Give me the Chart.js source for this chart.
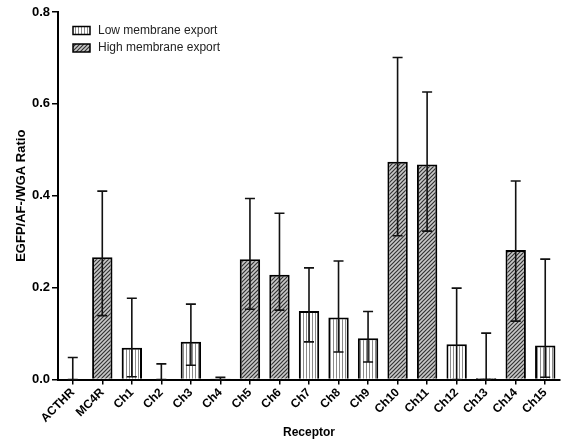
<!DOCTYPE html>
<html>
<head>
<meta charset="utf-8">
<script src="https://cdn.jsdelivr.net/npm/chart.js@4"></script>
<style>
  body { margin: 0; background: #fff; }
  #wrap { width: 564px; height: 443px; }
</style>
</head>
<body>
<div id="wrap"><canvas id="myChart"></canvas></div>
<script>
// receptors on the x axis
var receptors = ['ACTHR', 'MC4R', 'Ch1', 'Ch2', 'Ch3', 'Ch4', 'Ch5', 'Ch6', 'Ch7', 'Ch8',
                 'Ch9', 'Ch10', 'Ch11', 'Ch12', 'Ch13', 'Ch14', 'Ch15'];

// mean ratio, split by export group (null = not in this group)
var lowExport  = [0, null, 0.069, 0, 0.082, 0.002, null, null, 0.149, 0.135, 0.090, null, null, 0.077, 0.003, null, 0.074];
var highExport = [null, 0.266, null, null, null, null, 0.262, 0.228, null, null, null, 0.474, 0.468, null, null, 0.282, null];

// error bar ends
var errUpper = [0.048, 0.410, 0.177, 0.034, 0.164, 0.005, 0.394, 0.362, 0.243, 0.258, 0.148, 0.701, 0.626, 0.199, 0.101, 0.432, 0.262];
var errLower = [0, 0.139, 0.006, 0, 0.031, 0, 0.153, 0.151, 0.082, 0.060, 0.038, 0.313, 0.323, 0, 0, 0.127, 0.005];

var FONT = "'Liberation Sans', Arial, sans-serif";

// fill patterns
function stripes() {
  var c = document.createElement('canvas');
  c.width = 3; c.height = 3;
  var g = c.getContext('2d');
  g.fillStyle = '#fff';
  g.fillRect(0, 0, 3, 3);
  g.fillStyle = '#8a8a8a';
  g.fillRect(0, 0, 1, 3);
  return g.createPattern(c, 'repeat');
}
function hatch() {
  var c = document.createElement('canvas');
  c.width = 4; c.height = 4;
  var g = c.getContext('2d');
  g.fillStyle = '#c8c8c8';
  g.fillRect(0, 0, 4, 4);
  g.strokeStyle = '#333';
  g.lineWidth = 1.2;
  g.beginPath();
  g.moveTo(-1, 5); g.lineTo(5, -1);
  g.moveTo(-1, 1); g.lineTo(1, -1);
  g.moveTo(3, 5); g.lineTo(5, 3);
  g.stroke();
  return g.createPattern(c, 'repeat');
}
var lowFill = stripes();
var highFill = hatch();

var errorBars = {
  id: 'errorBars',
  afterDatasetsDraw: function(chart) {
    var ctx = chart.ctx, xs = chart.scales.x, ys = chart.scales.y;
    ctx.save();
    ctx.strokeStyle = '#111';
    ctx.lineWidth = 1.6;
    for (var i = 0; i < receptors.length; i++) {
      var x = xs.getPixelForValue(i);
      var yt = ys.getPixelForValue(errUpper[i]);
      var yb = ys.getPixelForValue(errLower[i]);
      ctx.beginPath();
      ctx.moveTo(x, yt); ctx.lineTo(x, yb);
      ctx.moveTo(x - 5, yt); ctx.lineTo(x + 5, yt);
      ctx.moveTo(x - 5, yb); ctx.lineTo(x + 5, yb);
      ctx.stroke();
    }
    ctx.restore();
  }
};

var boxLegend = {
  id: 'boxLegend',
  afterDraw: function(chart) {
    var ctx = chart.ctx;
    ctx.save();
    ctx.font = '12px ' + FONT;
    ctx.textBaseline = 'middle';
    chart.data.datasets.forEach(function(ds, k) {
      var y = 26.5 + k * 17.5;
      ctx.fillStyle = ds.backgroundColor;
      ctx.fillRect(73, y, 17, 8);
      ctx.strokeStyle = '#000';
      ctx.lineWidth = 1.5;
      ctx.strokeRect(73, y, 17, 8);
      ctx.fillStyle = '#222';
      ctx.fillText(ds.label, 98, y + 4);
    });
    ctx.restore();
  }
};

var ctx = document.getElementById('myChart').getContext('2d');
var chart = new Chart(ctx, {
  type: 'bar',
  data: {
    labels: receptors,
    datasets: [{
      label: 'Low membrane export',
      data: lowExport,
      backgroundColor: lowFill,
      borderColor: '#000',
      borderWidth: 2,
      grouped: false,
      barPercentage: 0.69,
      categoryPercentage: 1
    }, {
      label: 'High membrane export',
      data: highExport,
      backgroundColor: highFill,
      borderColor: '#000',
      borderWidth: 2,
      grouped: false,
      barPercentage: 0.69,
      categoryPercentage: 1
    }]
  },
  options: {
    responsive: true,
    maintainAspectRatio: false,
    animation: false,
    layout: { padding: { top: 12, right: 4, left: 0, bottom: 0 } },
    plugins: { legend: { display: false }, tooltip: { enabled: false } },
    scales: {
      x: {
        afterFit: function(s) { s.height = 63.5; },
        grid: { drawOnChartArea: false, drawTicks: true, tickLength: 5, offset: false, color: '#000', lineWidth: 1.5 },
        border: { color: '#000', width: 2 },
        ticks: { minRotation: 45, maxRotation: 45, autoSkip: false, padding: 1, color: '#000',
                 font: { family: FONT, size: 12, weight: 'bold' } },
        title: { display: true, text: 'Receptor', color: '#000', padding: { top: 0, bottom: 3 },
                 font: { family: FONT, size: 12, weight: 'bold' } }
      },
      y: {
        min: 0, max: 0.8,
        afterFit: function(s) { s.width = 58; },
        grid: { drawOnChartArea: false, drawTicks: true, tickLength: 6, color: '#000', lineWidth: 1.5 },
        border: { color: '#000', width: 2 },
        ticks: { stepSize: 0.2, padding: 2, color: '#000',
                 callback: function(v) { return v.toFixed(1); },
                 font: { family: FONT, size: 13, weight: 'bold' } },
        title: { display: true, text: 'EGFP/AF-/WGA Ratio', color: '#000', padding: { top: 14, bottom: 0 },
                 font: { family: FONT, size: 13, weight: 'bold' } }
      }
    }
  },
  plugins: [errorBars, boxLegend]
});
</script>
</body>
</html>
